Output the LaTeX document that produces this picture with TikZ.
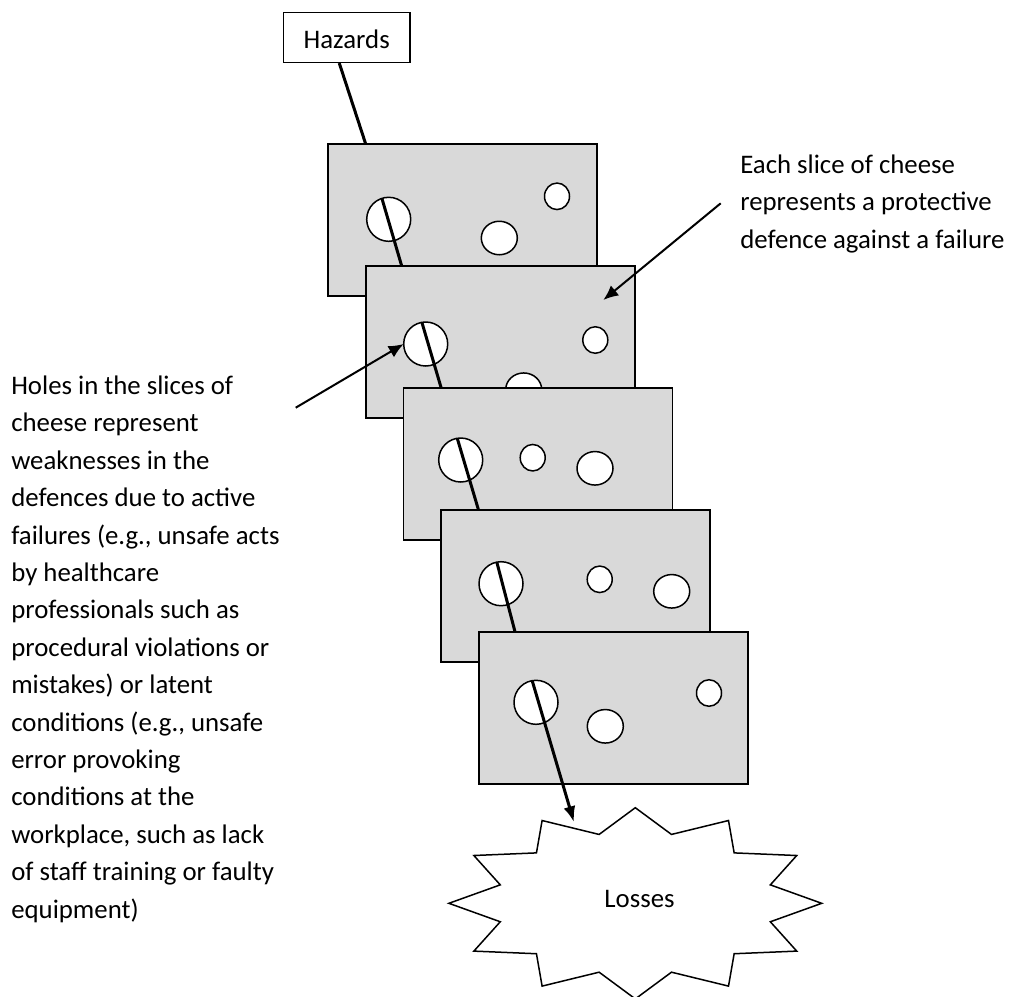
\documentclass[tikz,border=0pt]{standalone}
\usepackage{fontspec}
\setmainfont{Carlito}
\usetikzlibrary{shapes.geometric,arrows.meta,calc}
\definecolor{cheese}{RGB}{217,217,217}
\begin{document}
\begin{tikzpicture}[x=1pt,y=-1pt,
  slicebox/.style={draw=black, fill=cheese, line width=1.7pt, minimum width=269pt, minimum height=152pt, inner sep=0pt, outer sep=0pt},
  bighole/.style={circle, draw=black, fill=white, line width=1.5pt, minimum size=44pt, inner sep=0pt, outer sep=0pt},
  medhole/.style={ellipse, draw=black, fill=white, line width=1.5pt, minimum width=36pt, minimum height=33.5pt, inner sep=0pt, outer sep=0pt},
  smallhole/.style={ellipse, draw=black, fill=white, line width=1.5pt, minimum width=25pt, minimum height=26.5pt, inner sep=0pt, outer sep=0pt},
  hazline/.style={line width=3pt, draw=black},
  note/.style={line width=2pt, draw=black, -{Latex[length=15pt,width=13pt]}},
  txt/.style={font={\fontsize{26.8pt}{37.4pt}\selectfont}, inner sep=0pt, outer sep=0pt, align=left},
  hazbox/.style={draw=black, fill=white, line width=1.5pt, minimum width=126.7pt, minimum height=49.6pt, inner sep=0pt, text height=21.6pt, text depth=0pt, font={\fontsize{26.8pt}{37.4pt}\selectfont}},
  starline/.style={draw=black, fill=white, line width=1.5pt, line join=miter}
]
\useasboundingbox (0,0) rectangle (1009,996);
\fill[white] (0,0) rectangle (1009,996);

% hazards box and first line
\node[hazbox] (hz) at (346.7,37.5) {Hazards};
\coordinate (e1) at (365.7,144);
\draw[hazline] ($(hz.south west)!0.442!(hz.south east)$) -- (e1);

% slice 1
\node[slicebox] (s1) at (462.5,220) {};
\node[bighole] (h1) at (388.7,219.3) {};
\node[medhole] (m1) at (499.3,238) {};
\node[smallhole] (k1) at (557,196.3) {};
\coordinate (e2) at (401.7,266);
\draw[hazline] (h1.108) -- (e2);

% slice 2
\node[slicebox] (s2) at (500.25,342) {};
\node[bighole] (h2) at (425.7,344) {};
\node[medhole] (m2) at (523.7,389.7) {};
\node[smallhole] (k2) at (595.3,340) {};
\coordinate (e3) at (441,387.3);
\draw[hazline] (h2.100) -- (e3);

% slice 3
\node[slicebox] (s3) at (538,464) {};
\node[bighole] (h3) at (460.7,460) {};
\node[smallhole] (k3) at (532.7,457.7) {};
\node[medhole] (m3) at (595,468.3) {};
\coordinate (e4) at (478.3,509.3);
\draw[hazline] (h3.99) -- (e4);

% slice 4
\node[slicebox] (s4) at (575.75,586) {};
\node[bighole] (h4) at (501,583.7) {};
\node[smallhole] (k4) at (599.7,579.3) {};
\node[medhole] (m4) at (671.7,591.3) {};
\coordinate (e5) at (515,631.7);
\draw[hazline] (h4.101) -- (e5);

% slice 5
\node[slicebox] (s5) at (613.5,708) {};
\node[bighole] (h5) at (536,702.3) {};
\node[medhole] (m5) at (605.3,726.3) {};
\node[smallhole] (k5) at (709,693) {};

% losses star
\coordinate (lc) at (635.3,903.3);
\draw[starline, shift={(lc)}] (90:186.4 and 95.6)
  \foreach \a in {0,...,10} { -- ({75-30*\a}:139.8 and 71.3) -- ({60-30*\a}:186.4 and 95.6) }
  -- (-255:139.8 and 71.3) -- cycle;
\node[txt, anchor=base] (loss) at (639.5,907.3) {Losses};

\coordinate (t) at (574,822.3);
\draw[hazline, -{Latex[length=16pt,width=12pt]}] (h5.100) -- (t);

% annotations
\node[txt, anchor=base west] (rt) at (740.3,248.3) {Each slice of cheese\\represents a protective\\defence against a failure};
\coordinate (ra) at (720.7,203.3);
\coordinate (rb) at (603.3,300);
\draw[note] (ra) -- (rb);

\node[txt, anchor=base west] (lt) at (11.3,918) {Holes in the slices of\\cheese represent\\weaknesses in the\\defences due to active\\failures (e.g., unsafe acts\\by healthcare\\professionals such as\\procedural violations or\\mistakes) or latent\\conditions (e.g., unsafe\\error provoking\\conditions at the\\workplace, such as lack\\of staff training or faulty\\equipment)};
\coordinate (la) at (295.7,407.7);
\draw[note] (la) -- (h2.west);
\end{tikzpicture}
\end{document}
